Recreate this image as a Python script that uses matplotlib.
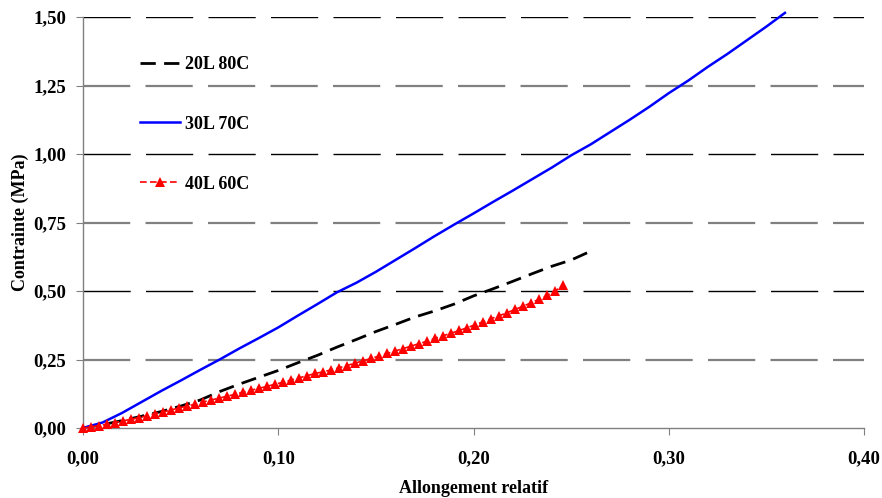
import matplotlib
matplotlib.use("Agg")
import matplotlib.pyplot as plt

# 20L 80C
x_20 = [0.000, 0.010, 0.020, 0.030, 0.040, 0.050, 0.060, 0.070, 0.080, 0.090,
        0.100, 0.110, 0.120, 0.130, 0.140, 0.150, 0.160, 0.170, 0.180, 0.190,
        0.200, 0.210, 0.220, 0.230, 0.240, 0.250, 0.2615]
y_20 = [0.000, 0.012, 0.027, 0.043, 0.060, 0.080, 0.102, 0.133, 0.160, 0.185,
        0.210, 0.238, 0.265, 0.295, 0.323, 0.352, 0.378, 0.405, 0.427, 0.452,
        0.482, 0.508, 0.535, 0.563, 0.590, 0.613, 0.650]

# 30L 70C
x_30 = [0.000, 0.010, 0.020, 0.030, 0.040, 0.050, 0.060, 0.070, 0.080, 0.090,
        0.100, 0.110, 0.120, 0.130, 0.140, 0.150, 0.160, 0.170, 0.180, 0.190,
        0.200, 0.210, 0.220, 0.230, 0.240, 0.250, 0.260, 0.270, 0.280, 0.290,
        0.300, 0.310, 0.320, 0.330, 0.340, 0.350, 0.3595]
y_30 = [0.000, 0.020, 0.055, 0.095, 0.135, 0.173, 0.212, 0.250, 0.290, 0.328,
        0.367, 0.410, 0.452, 0.495, 0.530, 0.570, 0.613, 0.656, 0.700, 0.742,
        0.783, 0.825, 0.866, 0.908, 0.950, 0.995, 1.035, 1.080, 1.125, 1.172,
        1.222, 1.268, 1.318, 1.365, 1.415, 1.465, 1.515]

# 40L 60C
x_40 = [0.0000, 0.0041, 0.0082, 0.0123, 0.0164, 0.0205, 0.0246, 0.0287, 0.0328, 0.0369,
        0.0410, 0.0451, 0.0492, 0.0533, 0.0574, 0.0615, 0.0656, 0.0697, 0.0738, 0.0779,
        0.0820, 0.0861, 0.0902, 0.0943, 0.0984, 0.1025, 0.1066, 0.1107, 0.1148, 0.1189,
        0.1230, 0.1271, 0.1312, 0.1353, 0.1394, 0.1435, 0.1476, 0.1517, 0.1558, 0.1599,
        0.1640, 0.1681, 0.1722, 0.1763, 0.1804, 0.1845, 0.1886, 0.1927, 0.1968, 0.2009,
        0.2050, 0.2091, 0.2132, 0.2173, 0.2214, 0.2255, 0.2296, 0.2337, 0.2378, 0.2419,
        0.2460]
y_40 = [0.000, 0.004, 0.009, 0.014, 0.020, 0.026, 0.032, 0.038, 0.045, 0.052,
        0.059, 0.066, 0.073, 0.080, 0.087, 0.095, 0.102, 0.109, 0.116, 0.123,
        0.131, 0.138, 0.145, 0.152, 0.160, 0.167, 0.175, 0.183, 0.191, 0.199,
        0.205, 0.212, 0.220, 0.228, 0.237, 0.245, 0.254, 0.263, 0.272, 0.281,
        0.290, 0.299, 0.308, 0.317, 0.327, 0.337, 0.346, 0.356, 0.366, 0.377,
        0.388, 0.399, 0.410, 0.421, 0.433, 0.445, 0.457, 0.470, 0.484, 0.500,
        0.522]

x_ticks = [0.0, 0.1, 0.2, 0.3, 0.4]
x_labels = ["0,00", "0,10", "0,20", "0,30", "0,40"]
y_ticks = [0.0, 0.25, 0.5, 0.75, 1.0, 1.25, 1.5]
y_labels = ["0,00", "0,25", "0,50", "0,75", "1,00", "1,25", "1,50"]

plt.rcParams["font.family"] = ["Liberation Serif", "DejaVu Serif"]
plt.rcParams["font.weight"] = "bold"

fig = plt.figure(figsize=(8.82, 4.98), dpi=100)
ax = fig.add_axes([83 / 882, 70 / 498, 781 / 882, 411 / 498])

gray = "#808080"
for i, v in enumerate(y_ticks[1:]):
    col = gray if i % 2 == 0 else "black"
    lw = 1.6 if col == gray else 1.0
    ax.axhline(v, color=col, lw=lw, dashes=(34 / lw, 11 / lw), zorder=1)

ax.plot(x_20, y_20, color="black", lw=2.0, dashes=(5.5, 3), label="20L 80C", zorder=3)
ax.plot(x_30, y_30, color="#0000ff", lw=1.8, label="30L 70C", zorder=3, clip_on=False)
ax.plot(x_40, y_40, color="#ff0000", lw=1.2, dashes=(4, 2), marker="^", ms=7,
        markeredgewidth=0, label="40L 60C", zorder=4, clip_on=False)

ax.set_xlim(0, 0.4)
ax.set_ylim(0, 1.5)
ax.set_xticks(x_ticks)
ax.set_xticklabels(x_labels)
ax.set_yticks(y_ticks)
ax.set_yticklabels(y_labels)

for s in ["top", "right"]:
    ax.spines[s].set_visible(False)
for s in ["left", "bottom"]:
    ax.spines[s].set_color(gray)
    ax.spines[s].set_linewidth(1.0)

ax.tick_params(axis="x", direction="out", length=5, color=gray, pad=11, labelsize=13.5)
ax.tick_params(axis="y", direction="out", length=5, color=gray, pad=7, labelsize=13.5)

ax.set_xlabel("Allongement relatif", fontsize=13, fontweight="bold", labelpad=9)
ax.set_ylabel("Contrainte (MPa)", fontsize=13, fontweight="bold", labelpad=3)

ax.legend(loc="upper left", bbox_to_anchor=(140 / 882, 1 - 56 / 498),
          bbox_transform=fig.transFigure, frameon=False, fontsize=13,
          handlelength=2.2, handletextpad=0.28, labelspacing=2.37,
          borderpad=0, borderaxespad=0, numpoints=1)

fig.savefig("out.png", dpi=100)
